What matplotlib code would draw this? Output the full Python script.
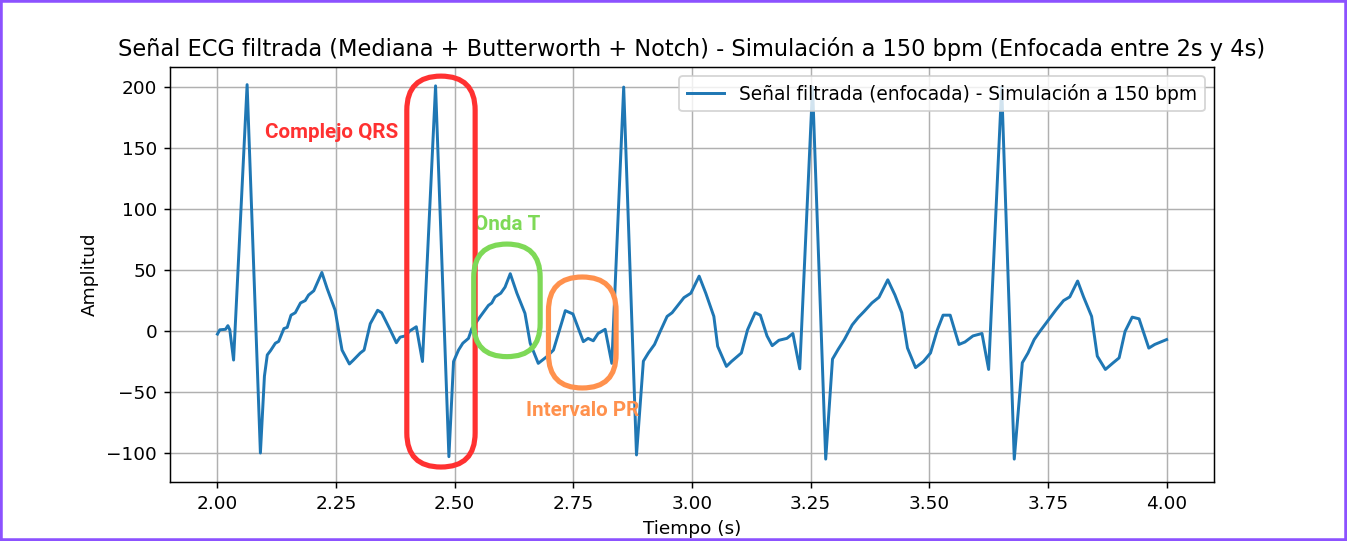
import matplotlib
matplotlib.use("Agg")
import matplotlib.pyplot as plt
from matplotlib.patches import FancyBboxPatch, Rectangle
from matplotlib.transforms import IdentityTransform
import numpy as np

# valores (tiempo en s, amplitud)
tiempo = [
    2.000, 2.005, 2.017, 2.022, 2.026, 2.034, 2.0625, 2.0905, 2.099, 2.105,
    2.112, 2.122, 2.129, 2.140, 2.147, 2.155, 2.164, 2.175, 2.185, 2.192,
    2.203, 2.220, 2.231, 2.248, 2.2625, 2.278, 2.286, 2.301, 2.309, 2.322,
    2.3375, 2.346, 2.364, 2.377, 2.385, 2.396, 2.405, 2.419, 2.432, 2.4596,
    2.4877, 2.4975, 2.508, 2.517, 2.529, 2.536, 2.554, 2.571, 2.578, 2.585,
    2.597, 2.606, 2.617, 2.631, 2.648, 2.659, 2.676, 2.694, 2.708, 2.733,
    2.749, 2.771, 2.781, 2.792, 2.802, 2.817, 2.831, 2.856, 2.883, 2.8975,
    2.908, 2.921, 2.933, 2.9475, 2.958, 2.971, 2.983, 2.9975, 3.015, 3.029,
    3.046, 3.054, 3.0725, 3.083, 3.104, 3.117, 3.133, 3.144, 3.158, 3.169,
    3.183, 3.200, 3.2125, 3.227, 3.254, 3.2817, 3.296, 3.308, 3.321, 3.3375,
    3.350, 3.3625, 3.379, 3.394, 3.4125, 3.4275, 3.442, 3.454, 3.471, 3.4875,
    3.5025, 3.517, 3.529, 3.544, 3.5625, 3.575, 3.592, 3.611, 3.625, 3.6525,
    3.679, 3.696, 3.708, 3.721, 3.733, 3.746, 3.767, 3.783, 3.796, 3.8125,
    3.825, 3.842, 3.854, 3.871, 3.8875, 3.900, 3.9125, 3.9275, 3.942, 3.9625,
    3.975, 3.9875, 4.000,
]
amplitud = [
    -2.5, 1, 1.4, 4.4, 1, -23.8, 202, -100, -37, -19.6,
    -16, -10, -8.5, 2, 3, 13, 15, 23, 25, 29.5,
    33, 48, 35, 17, -15.6, -27, -24, -18, -15.6, 6,
    17, 15, 1, -9.6, -5, -4, 0, 3.5, -25, 201,
    -103, -25, -15.6, -10, -6, 2, 12, 21, 23, 28,
    31, 36, 47, 31, 14.5, -10, -26.5, -21, -15.6, 16.7,
    14, -8.7, -6, -8, -2, 1.4, -26.5, 200, -101.6, -24.7,
    -18, -11, -0.3, 12, 15, 21.5, 27.4, 31, 45, 31,
    12, -12.5, -29, -25, -18, 1, 15, 13, -4, -12,
    -7.6, -6, -2, -31, 200, -105, -23, -15, -7, 5,
    11, 16, 23, 27.7, 42, 29.6, 15, -13.9, -30, -25,
    -18, 1, 13, 13, -11, -9, -4, -2, -31.5, 200,
    -105, -26, -18, -7, -0.3, 6.5, 17.4, 25, 28, 41,
    28, 12, -20.6, -31.5, -26, -22, -0.3, 11.4, 10, -14,
    -11, -9, -7,
]

# anotaciones: (t0, t1, y0, y1) en unidades de datos
zonas = {
    "Complejo QRS": (2.399, 2.543, -111.5, 209.0),
    "Onda T": (2.540, 2.680, -21.0, 71.3),
    "Intervalo PR": (2.6975, 2.840, -46.7, 44.3),
}
colores = {"Complejo QRS": "#ff3131", "Onda T": "#7ed957", "Intervalo PR": "#ff914d"}
textos = {
    "Complejo QRS": (2.24, 163),
    "Onda T": (2.6105, 87),
    "Intervalo PR": (2.7705, -65),
}

DPI = 133
fig = plt.figure(figsize=(1347 / DPI, 541 / DPI), dpi=DPI)
ax = fig.add_axes([0.1262, 0.109, 0.9013 - 0.1262, 0.876 - 0.109])
ax.plot(tiempo, amplitud, color="#1f77b4", linewidth=1.6,
        label="Señal filtrada (enfocada) - Simulación a 150 bpm")
ax.set_xlim(1.9, 4.1)
ax.set_ylim(-123.8, 216.4)
ax.set_xticks(np.arange(2.0, 4.01, 0.25))
ax.set_title("Señal ECG filtrada (Mediana + Butterworth + Notch) - Simulación a 150 bpm (Enfocada entre 2s y 4s)",
             fontsize=12.2)
ax.set_xlabel("Tiempo (s)")
ax.set_ylabel("Amplitud")
ax.grid(True)
ax.legend(loc="upper right", fontsize=10.1)

fig.canvas.draw()
for nombre, (t0, t1, y0, y1) in zonas.items():
    (x0, yy0), (x1, yy1) = ax.transData.transform([(t0, y0), (t1, y1)])
    r = (x1 - x0) / 2
    caja = FancyBboxPatch((x0, yy0), x1 - x0, yy1 - yy0,
                          boxstyle=f"round,pad=0,rounding_size={r}",
                          transform=IdentityTransform(), fill=False,
                          edgecolor=colores[nombre], linewidth=2.8, zorder=5)
    fig.add_artist(caja)
    tx, ty = textos[nombre]
    ax.text(tx, ty, nombre, color=colores[nombre], ha="center", va="center",
            fontsize=11.2, fontweight="bold",
            family=["Liberation Sans Narrow", "Roboto", "DejaVu Sans"],
            clip_on=False, zorder=6)

fig.add_artist(Rectangle((0, 0), 1, 1, transform=fig.transFigure, fill=False,
                         edgecolor="#8c52ff", linewidth=3))

fig.savefig("out.png", dpi=DPI)
